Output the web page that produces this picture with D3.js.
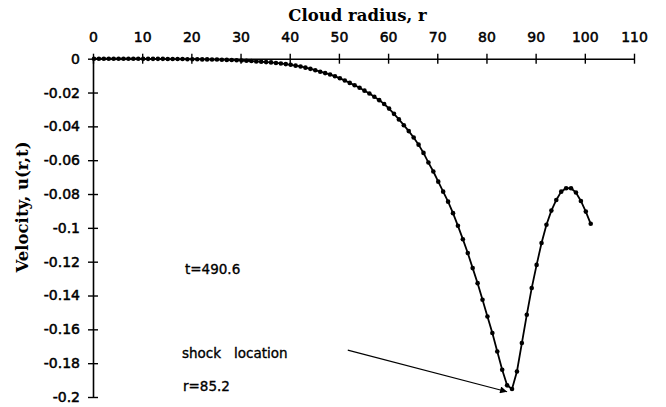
<!DOCTYPE html>
<html>
<head>
<meta charset="utf-8">
<script src="https://cdn.jsdelivr.net/npm/d3@7"></script>
<style>
  html, body { margin: 0; padding: 0; background: #fff; }
  svg { display: block; }
</style>
</head>
<body>
<svg id="chart" width="666" height="407"></svg>
<script>
// ---- data ----
const radius = [
  0.2, 1.2, 2.2, 3.2, 4.2, 5.2, 6.2, 7.2, 8.2, 9.2,
  10.2, 11.2, 12.2, 13.2, 14.2, 15.2, 16.2, 17.2, 18.2, 19.2,
  20.2, 21.2, 22.2, 23.2, 24.2, 25.2, 26.2, 27.2, 28.2, 29.2,
  30.2, 31.2, 32.2, 33.2, 34.2, 35.2, 36.2, 37.2, 38.2, 39.2,
  40.2, 41.2, 42.2, 43.2, 44.2, 45.2, 46.2, 47.2, 48.2, 49.2,
  50.2, 51.2, 52.2, 53.2, 54.2, 55.2, 56.2, 57.2, 58.2, 59.2,
  60.2, 61.2, 62.2, 63.2, 64.2, 65.2, 66.2, 67.2, 68.2, 69.2,
  70.2, 71.2, 72.2, 73.2, 74.2, 75.2, 76.2, 77.2, 78.2, 79.2,
  80.2, 81.2, 82.2, 83.2, 84.2, 85.2, 86.2, 87.2, 88.2, 89.2,
  90.2, 91.2, 92.2, 93.2, 94.2, 95.2, 96.2, 97.2, 98.2, 99.2,
  100.2, 101.2
];
const velocity = [
  0, 0, 0, 0, 0, 0, 0, 0, 0, 0,
  -0.0001, -0.0001, -0.0001, -0.0001, -0.0001, -0.0002, -0.0002, -0.0002, -0.0002, -0.0003,
  -0.0003, -0.0003, -0.0004, -0.0004, -0.0005, -0.0005, -0.0006, -0.0007, -0.0008, -0.0009,
  -0.0011, -0.0012, -0.0014, -0.0016, -0.0018, -0.0020, -0.0022, -0.0025, -0.0028, -0.0032,
  -0.0036, -0.0041, -0.0046, -0.0053, -0.0060, -0.0068, -0.0077, -0.0085, -0.0093, -0.0104,
  -0.0116, -0.0129, -0.0143, -0.0157, -0.0172, -0.0189, -0.0206, -0.0225, -0.0245, -0.0268,
  -0.0295, -0.0326, -0.0359, -0.0393, -0.0428, -0.0466, -0.0508, -0.0557, -0.0614, -0.0667,
  -0.0727, -0.0786, -0.0845, -0.0913, -0.0988, -0.1067, -0.1149, -0.1238, -0.1327, -0.1425,
  -0.1524, -0.1622, -0.1731, -0.1839, -0.1931, -0.1953, -0.1849, -0.1681, -0.1514, -0.1356,
  -0.1219, -0.1090, -0.0982, -0.0898, -0.0835, -0.0786, -0.0766, -0.0766, -0.0791, -0.0841,
  -0.0904, -0.0976
];
const xTicks = [0, 10, 20, 30, 40, 50, 60, 70, 80, 90, 100, 110];
const yTicks = [0, -0.02, -0.04, -0.06, -0.08, -0.1, -0.12, -0.14, -0.16, -0.18, -0.2];
const yTickLabels = ["0", "-0.02", "-0.04", "-0.06", "-0.08", "-0.1", "-0.12", "-0.14", "-0.16", "-0.18", "-0.2"];
const xTitle = "Cloud radius, r";
const yTitle = "Velocity, u(r,t)";
const timeLabel = "t=490.6";
const shockLabel = "shock   location";
const shockRadiusLabel = "r=85.2";
// annotation anchors in data units [r, u]
const timeLabelPos = [18.7, -0.1272];
const shockLabelPos = [18.1, -0.1768];
const shockRadiusPos = [18.3, -0.1967];
const arrowFrom = [51.8, -0.1723];
const arrowTo = [84.2, -0.1969];

// ---- drawing ----
const svg = d3.select("#chart");
const x = d3.scaleLinear().domain([0, 110]).range([93, 634]);
const y = d3.scaleLinear().domain([-0.2, 0]).range([397, 58.7]);

const sans = "'DejaVu Sans', sans-serif";
const serif = "'DejaVu Serif', serif";

svg.append("defs").append("marker")
  .attr("id", "arrowhead")
  .attr("viewBox", "0 0 10 10")
  .attr("refX", 10).attr("refY", 5)
  .attr("markerWidth", 10).attr("markerHeight", 7)
  .attr("markerUnits", "userSpaceOnUse")
  .attr("orient", "auto")
  .append("path").attr("d", "M0,0L10,5L0,10Z").attr("fill", "#000");

// X axis (top)
const xAxis = d3.axisTop(x).tickValues(xTicks).tickSize(0).tickPadding(17)
  .tickFormat(d3.format("d"));
const gx = svg.append("g").attr("transform", `translate(0,${y(0)})`).call(xAxis);
gx.select(".domain").attr("stroke", "#000").attr("stroke-width", 1.6);
gx.selectAll(".tick text").attr("font-family", sans).attr("font-size", 14).attr("fill", "#000")
  .attr("stroke", "#000").attr("stroke-width", 0.5);
gx.selectAll(".tick").append("line")
  .attr("y1", -5).attr("y2", 5).attr("stroke", "#000").attr("stroke-width", 1.4);

// Y axis (left)
const yAxis = d3.axisLeft(y).tickValues(yTicks).tickSize(0).tickPadding(13)
  .tickFormat((d, i) => yTickLabels[i]);
const gy = svg.append("g").attr("transform", `translate(${x(0)},0)`).call(yAxis);
gy.select(".domain").attr("stroke", "#000").attr("stroke-width", 1.6);
gy.selectAll(".tick text").attr("font-family", sans).attr("font-size", 14).attr("fill", "#000")
  .attr("stroke", "#000").attr("stroke-width", 0.5);
gy.selectAll(".tick").append("line")
  .attr("x1", -5).attr("x2", 5).attr("stroke", "#000").attr("stroke-width", 1.4);

// Titles
svg.append("text")
  .attr("x", (x(0) + x(110)) / 2 - 6).attr("y", 20.5)
  .attr("text-anchor", "middle")
  .attr("font-family", serif).attr("font-weight", "bold").attr("font-size", 16.5)
  .text(xTitle);
svg.append("text")
  .attr("transform", `translate(28,207) rotate(-90)`)
  .attr("text-anchor", "middle")
  .attr("font-family", serif).attr("font-weight", "bold").attr("font-size", 16.5)
  .text(yTitle);

// Curve
const pts = radius.map((r, i) => [r, velocity[i]]);
svg.append("path")
  .datum(pts)
  .attr("fill", "none").attr("stroke", "#000").attr("stroke-width", 1.8)
  .attr("d", d3.line().x(d => x(d[0])).y(d => y(d[1])));
svg.append("g").selectAll("circle").data(pts).join("circle")
  .attr("cx", d => x(d[0])).attr("cy", d => y(d[1]))
  .attr("r", 2.3).attr("fill", "#000");

// Annotations
const annot = (pos, txt) => svg.append("text")
  .attr("x", x(pos[0])).attr("y", y(pos[1]))
  .attr("font-family", sans).attr("font-size", 13.5).attr("fill", "#000")
  .attr("stroke", "#000").attr("stroke-width", 0.35)
  .attr("xml:space", "preserve").style("white-space", "pre")
  .text(txt);
annot(timeLabelPos, timeLabel);
annot(shockLabelPos, shockLabel);
annot(shockRadiusPos, shockRadiusLabel);

svg.append("line")
  .attr("x1", x(arrowFrom[0])).attr("y1", y(arrowFrom[1]))
  .attr("x2", x(arrowTo[0])).attr("y2", y(arrowTo[1]))
  .attr("stroke", "#000").attr("stroke-width", 1.2)
  .attr("marker-end", "url(#arrowhead)");
</script>
</body>
</html>
